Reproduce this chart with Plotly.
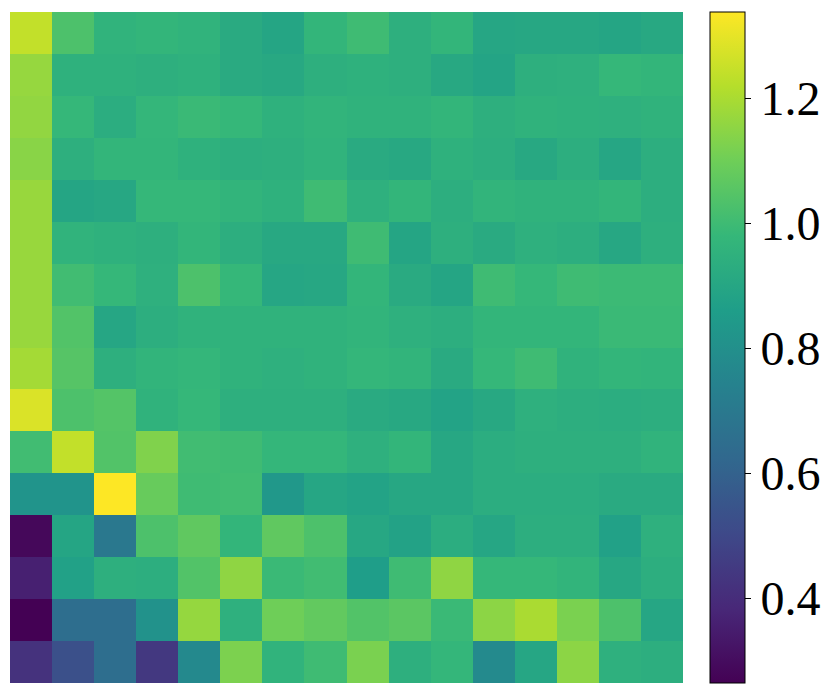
import plotly.graph_objects as go

# rows listed top to bottom, 16 columns each
row_00 = [1.24, 1.03, 0.96, 0.97, 0.96, 0.92, 0.895, 0.97, 1.00, 0.94, 0.97, 0.90, 0.905, 0.905, 0.895, 0.91]
row_01 = [1.166, 0.95, 0.95, 0.94, 0.95, 0.92, 0.91, 0.94, 0.95, 0.94, 0.91, 0.89, 0.94, 0.945, 0.98, 0.97]
row_02 = [1.16, 0.98, 0.93, 0.975, 0.99, 0.98, 0.95, 0.965, 0.955, 0.955, 0.97, 0.94, 0.955, 0.95, 0.945, 0.955]
row_03 = [1.145, 0.94, 0.97, 0.97, 0.95, 0.935, 0.94, 0.96, 0.92, 0.91, 0.95, 0.935, 0.91, 0.935, 0.90, 0.935]
row_04 = [1.17, 0.895, 0.905, 0.98, 0.98, 0.965, 0.95, 1.00, 0.945, 0.97, 0.935, 0.965, 0.955, 0.955, 0.97, 0.935]
row_05 = [1.17, 0.96, 0.95, 0.94, 0.97, 0.935, 0.91, 0.91, 1.00, 0.895, 0.94, 0.92, 0.945, 0.935, 0.905, 0.94]
row_06 = [1.17, 1.005, 0.98, 0.945, 1.03, 0.98, 0.90, 0.905, 0.97, 0.92, 0.895, 1.00, 0.98, 1.00, 0.995, 0.995]
row_07 = [1.17, 1.04, 0.90, 0.935, 0.955, 0.955, 0.955, 0.955, 0.965, 0.945, 0.935, 0.97, 0.97, 0.97, 0.99, 0.99]
row_08 = [1.19, 1.05, 0.94, 0.965, 0.975, 0.955, 0.945, 0.955, 0.975, 0.965, 0.92, 0.98, 1.00, 0.955, 0.97, 0.965]
row_09 = [1.28, 1.03, 1.045, 0.955, 0.98, 0.94, 0.94, 0.94, 0.92, 0.91, 0.885, 0.91, 0.945, 0.935, 0.93, 0.935]
row_10 = [1.005, 1.24, 1.04, 1.13, 1.005, 1.00, 0.975, 0.975, 0.945, 0.97, 0.905, 0.93, 0.94, 0.94, 0.94, 0.96]
row_11 = [0.82, 0.82, 1.338, 1.085, 1.00, 1.005, 0.835, 0.90, 0.885, 0.905, 0.905, 0.93, 0.93, 0.93, 0.92, 0.92]
row_12 = [0.285, 0.895, 0.694, 1.03, 1.07, 0.97, 1.07, 1.03, 0.905, 0.88, 0.93, 0.90, 0.935, 0.935, 0.875, 0.945]
row_13 = [0.36, 0.875, 0.94, 0.935, 1.04, 1.155, 0.99, 1.005, 0.86, 1.00, 1.155, 0.98, 0.98, 0.965, 0.905, 0.935]
row_14 = [0.264, 0.65, 0.65, 0.81, 1.165, 0.945, 1.10, 1.075, 1.04, 1.06, 0.99, 1.15, 1.20, 1.12, 1.03, 0.90]
row_15 = [0.42, 0.53, 0.65, 0.44, 0.77, 1.123, 0.96, 1.00, 1.12, 0.94, 0.975, 0.775, 0.90, 1.15, 0.945, 0.935]

z = [row_00, row_01, row_02, row_03, row_04, row_05, row_06, row_07,
     row_08, row_09, row_10, row_11, row_12, row_13, row_14, row_15]

colorbar_ticks = [0.4, 0.6, 0.8, 1.0, 1.2]

fig = go.Figure(go.Heatmap(
    z=z,
    colorscale='Viridis',
    colorbar=dict(
        x=1.04, xanchor='left', xpad=0,
        y=0.5, yanchor='middle', len=1, ypad=0,
        thickness=35,
        outlinewidth=1, outlinecolor='black',
        tickvals=colorbar_ticks, tickformat='.1f',
        ticks='outside', ticklen=6, tickcolor='black',
        tickfont=dict(family='Liberation Serif', size=48, color='black'),
    ),
))

fig.update_layout(
    width=831, height=697,
    xaxis=dict(visible=False),
    yaxis=dict(visible=False, autorange='reversed'),
    plot_bgcolor='white',
    paper_bgcolor='white',
    margin=dict(l=2, r=156, t=4, b=22),
)

fig.write_html("out.html")
